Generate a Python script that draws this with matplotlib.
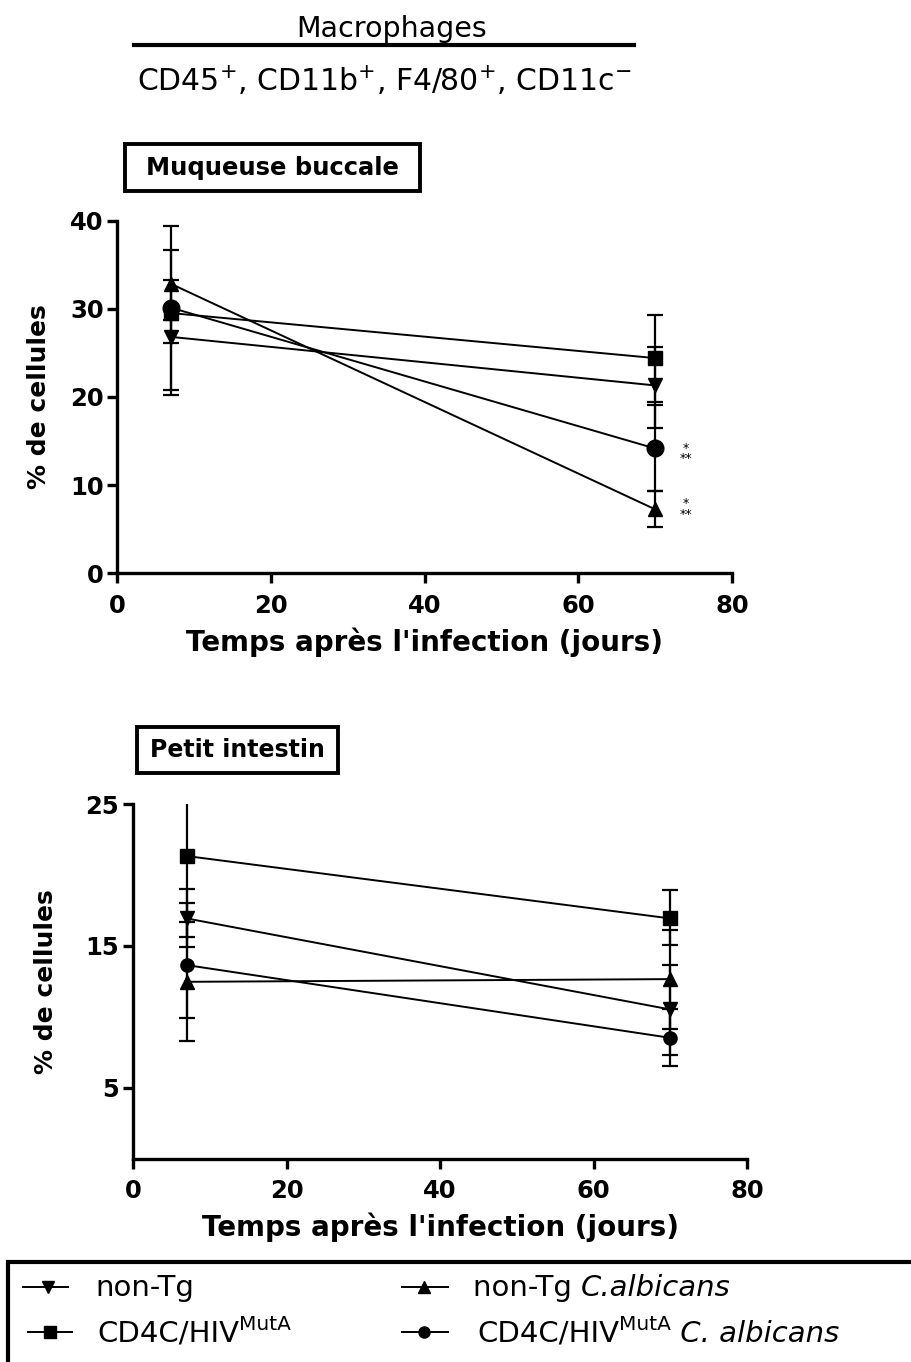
import matplotlib
matplotlib.use("Agg")
import matplotlib.pyplot as plt
from matplotlib.patches import Rectangle
from matplotlib.lines import Line2D

plt.rcParams['font.family'] = ['DejaVu Sans']
plt.rcParams['mathtext.fontset'] = 'dejavusans'

# ---------------- data ----------------
days = [7, 70]
series_markers = ['v', 's', '^', 'o']

# Muqueuse buccale (% de cellules)
mb_nonTg = [26.8, 21.3]
mb_cd4 = [29.5, 24.4]
mb_nonTg_ca = [32.8, 7.25]
mb_cd4_ca = [30.1, 14.15]
mb_nonTg_lo, mb_nonTg_up = [6.6, 4.8], [6.5, 4.36]
mb_cd4_lo, mb_cd4_up = [0.8, 5.0], [0.8, 4.85]
mb_nonTg_ca_lo, mb_nonTg_ca_up = [6.7, 2.05], [6.6, 2.05]
mb_cd4_ca_lo, mb_cd4_ca_up = [9.35, 4.85], [6.5, 4.9]

# Petit intestin (% de cellules)
pi_nonTg = [16.93, 10.51]
pi_cd4 = [21.33, 16.93]
pi_nonTg_ca = [12.46, 12.65]
pi_cd4_ca = [13.64, 8.51]
pi_nonTg_lo, pi_nonTg_up = [2.0, 3.23], [2.07, 3.13]
pi_cd4_lo, pi_cd4_up = [5.69, 1.88], [5.7, 2.0]
pi_nonTg_ca_lo, pi_nonTg_ca_up = [4.19, 3.49], [4.19, 3.45]
pi_cd4_ca_lo, pi_cd4_ca_up = [3.72, 2.01], [4.4, 2.0]

x_ticks = [0, 20, 40, 60, 80]
mb_yticks = [0, 10, 20, 30, 40]
pi_yticks = [5, 15, 25]

# significance marks next to day-70 points (x, y of the mark group)
mb_sig_x = [74, 74]
mb_sig_y = [13.6, 7.3]
mb_sig_txt = ["*\n**", "*\n**"]

# legend entries: list of (text, style) pieces
legend_entries = [
    [("non-Tg", 'n')],
    [("CD4C/HIV", 'n'), ("MutA", 's')],
    [("non-Tg ", 'n'), ("C.albicans", 'i')],
    [("CD4C/HIV", 'n'), ("MutA", 's'), (" C. albicans", 'i')],
]

W, H = 912, 1362
fig = plt.figure(figsize=(W / 100, H / 100), dpi=100)
renderer = fig.canvas.get_renderer()


def fx(x):
    return x / W


def fy(y):
    return 1 - y / H


def style_axes(ax, yticks, ylim, ylabelpad):
    ax.set_xlim(0, 80)
    ax.set_ylim(*ylim)
    ax.set_xticks(x_ticks)
    ax.set_yticks(yticks)
    for s in ['top', 'right']:
        ax.spines[s].set_visible(False)
    for s in ['left', 'bottom']:
        ax.spines[s].set_linewidth(2.4)
    ax.tick_params(direction='out', length=7, width=2.4, labelsize=17.5)
    ax.tick_params(axis='x', pad=8)
    ax.tick_params(axis='y', pad=3)
    for lbl in ax.get_xticklabels() + ax.get_yticklabels():
        lbl.set_fontweight('bold')
    ax.set_xlabel("Temps après l'infection (jours)", fontsize=20,
                  fontweight='bold', labelpad=6.5)
    ax.set_ylabel("% de cellules", fontsize=18, fontweight='bold',
                  labelpad=ylabelpad)


def plot_series(ax, vals, los, ups, sizes):
    for v, lo, up, m, ms in zip(vals, los, ups, series_markers, sizes):
        ax.errorbar(days, v, yerr=[lo, up], fmt='-', marker=m, color='black',
                    ms=ms, lw=1.4, elinewidth=1.6, capsize=6, capthick=1.6,
                    mec='black', mfc='black')


# ---- top panel ----
ax1 = fig.add_axes([fx(117.5), fy(573.3), (732 - 117.5) / W, (573.3 - 220.5) / H])
plot_series(ax1,
            [mb_nonTg, mb_cd4, mb_nonTg_ca, mb_cd4_ca],
            [mb_nonTg_lo, mb_cd4_lo, mb_nonTg_ca_lo, mb_cd4_ca_lo],
            [mb_nonTg_up, mb_cd4_up, mb_nonTg_ca_up, mb_cd4_ca_up],
            [9.5, 9.5, 9.5, 12])
style_axes(ax1, mb_yticks, (0, 40), 14)
for sx, sy, st in zip(mb_sig_x, mb_sig_y, mb_sig_txt):
    ax1.text(sx, sy, st, fontsize=9, ha='center', va='center',
             multialignment='center', linespacing=0.75)

# ---- bottom panel ----
ax2 = fig.add_axes([fx(133), fy(1158.5), (747 - 133) / W, (1158.5 - 804) / H])
plot_series(ax2,
            [pi_nonTg, pi_cd4, pi_nonTg_ca, pi_cd4_ca],
            [pi_nonTg_lo, pi_cd4_lo, pi_nonTg_ca_lo, pi_cd4_ca_lo],
            [pi_nonTg_up, pi_cd4_up, pi_nonTg_ca_up, pi_cd4_ca_up],
            [9.5, 9.5, 9.5, 9.5])
style_axes(ax2, pi_yticks, (0, 25), 20)

# ---- header ----
fig.text(fx(392), fy(29), "Macrophages", fontsize=20.5, ha='center', va='center')
fig.add_artist(Line2D([fx(134), fx(634)], [fy(45), fy(45)], color='black', lw=3,
                      transform=fig.transFigure))
fig.text(fx(384), fy(80),
         "CD45$^{+}$, CD11b$^{+}$, F4/80$^{+}$, CD11c$^{-}$",
         fontsize=21.5, ha='center', va='center')

# ---- panel title boxes ----
fig.add_artist(Rectangle((fx(125), fy(191)), (420 - 125) / W, (191 - 144) / H,
                         fill=False, lw=2.8, ec='black', transform=fig.transFigure))
fig.text(fx(272), fy(168), "Muqueuse buccale", fontsize=17.5, fontweight='bold',
         ha='center', va='center')
fig.add_artist(Rectangle((fx(137), fy(773)), (338 - 137) / W, (773 - 727) / H,
                         fill=False, lw=2.8, ec='black', transform=fig.transFigure))
fig.text(fx(237), fy(750), "Petit intestin", fontsize=17, fontweight='bold',
         ha='center', va='center')

# ---- legend ----
fig.add_artist(Rectangle((fx(8), fy(1385)), (930 - 8) / W, (1385 - 1262) / H,
                         fill=False, lw=3, ec='black', transform=fig.transFigure))
# (line x0, line x1, marker x, row centre y, text x, baseline y)
leg_pos = [(23, 68, 48, 1287, 95, 1296), (28, 72, 50, 1332, 97, 1342),
           (402, 448, 424, 1287, 473, 1296), (402, 448, 424, 1332, 477, 1342)]
LEG_FS = 21
for (x0, x1, xm, yy, xt, yb), m, parts in zip(leg_pos, series_markers, legend_entries):
    fig.add_artist(Line2D([fx(x0), fx(x1)], [fy(yy), fy(yy)], color='black', lw=1.4,
                          transform=fig.transFigure))
    fig.add_artist(Line2D([fx(xm)], [fy(yy)], color='black', marker=m, ms=8,
                          transform=fig.transFigure))
    cx = xt
    for txt, st in parts:
        if st == 's':
            t = fig.text(fx(cx), fy(yb - 12), txt, fontsize=14.5, ha='left',
                         va='baseline')
        else:
            t = fig.text(fx(cx), fy(yb), txt, fontsize=LEG_FS, ha='left',
                         va='baseline', fontstyle='italic' if st == 'i' else 'normal')
        bb = t.get_window_extent(renderer)
        cx += bb.width

fig.savefig("out.png", dpi=100)
